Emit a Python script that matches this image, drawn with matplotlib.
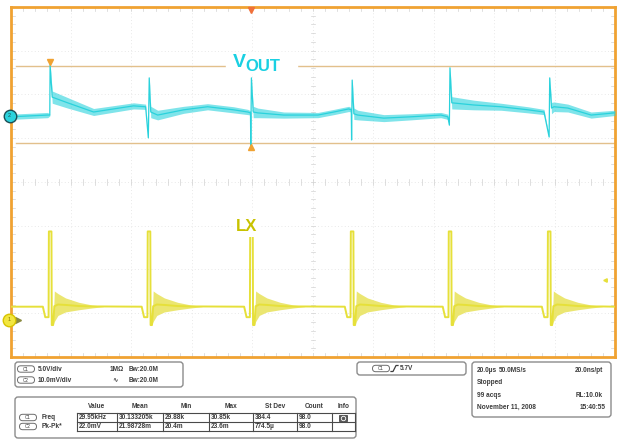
import matplotlib
matplotlib.use("Agg")
import matplotlib.pyplot as plt
from matplotlib.patches import FancyBboxPatch, Rectangle

plt.rcParams['font.family'] = ['Liberation Sans', 'DejaVu Sans']

# scope settings
c1_volts_per_div = 5.0   # LX
c2_mv_per_div = 10.0     # VOUT
c1_offset = -3.15        # div, channel 1 ground marker
c2_offset = 1.51         # div, channel 2 ground marker
cursor_hi_mv = 11.4
cursor_lo_mv = -6.2
trigger_time = -20.4
trigger_level_v = 4.6

# VOUT trace: time (us), level (mV), noise half width (mV)
vout_t = [-100, -87.7, -87.0, -86.9, -86.2, -81.1, -72.5, -59.3, -55.3,
          -54.4, -54.1, -53.6, -51.3, -42.7, -34.8, -26.2, -21.5,
          -20.6, -20.5, -20.3, -19.7, -18.2, -9.6, 1.7, 7.0, 11.9,
          12.75, 12.85, 13.05, 13.6, 14.9, 23.5, 32.5, 42.4, 44.7,
          45.2, 45.4, 46.0, 53.3, 62.3, 71.2, 76.5,
          78.2, 78.4, 79.0, 79.8, 84.4, 92.1, 100]
vout_mv = [-0.2, 0.2, 0.2, 11.7, 4.3, 3.0, 0.9, 2.3, 2.1,
           -5.0, 8.7, 0.9, 0.2, 1.4, 2.1, 1.4, 0.9,
           0.7, -7.3, 8.7, 0.9, 0.7, 0.2, 0.2, 0.9, 1.6,
           1.4, -5.5, 8.2, 0.5, 0.2, -0.5, -0.2, 0.2, -0.2,
           -2.1, 11.0, 3.0, 2.5, 2.1, 1.4, 0.9,
           -4.8, 8.7, 1.8, 2.1, 1.8, 0.2, 0.7]
vout_fuzz = [0.6, 0.6, 0.2, 0.2, 1.4, 1.2, 0.8, 0.7, 0.6,
             0.2, 0.2, 1.3, 1.1, 0.8, 0.7, 0.7, 0.6,
             0.5, 0.2, 0.2, 1.3, 1.1, 0.7, 0.6, 0.6, 0.6,
             0.5, 0.2, 0.2, 1.3, 1.1, 0.8, 0.7, 0.6, 0.6,
             0.2, 0.2, 1.4, 1.1, 0.8, 0.7, 0.6,
             0.2, 0.2, 1.3, 1.1, 0.9, 0.7, 0.6]

# LX switching node: rising edge times (us) and one pulse shape
lx_edges = [-87.3, -54.6, -20.7, 12.6, 45.0, 77.8]
lx_base = 1.5
pulse_dt = [-2.0, -1.2, -0.1, 0.0, 0.85, 0.95, 1.4]
pulse_v = [1.5, 0.3, 0.3, 10.1, 10.1, -0.6, -0.6]
ring_dt = [1.4, 1.8, 3.0, 5.5, 9.9, 14.2, 18.0]
ring_hi = [-0.6, 3.3, 3.0, 2.5, 2.0, 1.7, 1.55]
ring_lo = [-0.6, -0.2, 0.5, 0.9, 1.15, 1.35, 1.5]

# readout panel text
chan_rows = [("C1", "5.0V/div", "1MΩ"), ("C2", "10.0mV/div", "∿")]
bw_label = "Bw:20.0M"
trig_label = "5.7V"
acq_lines = [("20.0µs", "50.0MS/s", "20.0ns/pt"), ("Stopped", "", ""),
             ("99 acqs", "", "RL:10.0k"), ("November 11, 2008", "", "15:40:55")]
meas_header = ["Value", "Mean", "Min", "Max", "St Dev", "Count", "Info"]
meas_rows = [("C1", "Freq", ["29.95kHz", "30.133205k", "29.88k", "30.85k", "384.4", "98.0"]),
             ("C2", "Pk-Pk*", ["22.0mV", "21.98728m", "20.4m", "23.6m", "774.5µ", "98.0"])]

CYAN = '#2ad2dc'
YEL = '#e6e03a'
ORANGE = '#f0a232'
TXT = '#3c3c3c'

fig = plt.figure(figsize=(6.25, 4.44), dpi=100)

# panel layer in pixel coordinates
ui = fig.add_axes([0, 0, 1, 1])
ui.set_xlim(0, 625)
ui.set_ylim(444, 0)
ui.axis('off')

# scope screen
ax = fig.add_axes([10.5 / 625, (444 - 357) / 444, 604.5 / 625, 350 / 444])
ax.set_xlim(-100, 100)
ax.set_ylim(-4, 4)
ax.set_xticks([])
ax.set_yticks([])
for s in ax.spines.values():
    s.set_color(ORANGE)
    s.set_linewidth(2)

# graticule
GC = '#d2d2d2'
for gx in range(-80, 100, 20):
    ax.axvline(gx, color='#e2e2e2', lw=0.6, ls=(0, (1, 3)), zorder=0)
for gy in range(-3, 4):
    ax.axhline(gy, color='#e2e2e2', lw=0.6, ls=(0, (1, 3)), zorder=0)
for k in range(-25, 26):
    tx = k * 4
    ax.plot([tx, tx], [-0.06, 0.06], color=GC, lw=0.5, zorder=0)
    ax.plot([tx, tx], [3.91, 4.0], color=GC, lw=0.5, zorder=0)
    ax.plot([tx, tx], [-4.0, -3.91], color=GC, lw=0.5, zorder=0)
for k in range(-20, 21):
    ty = k * 0.2
    ax.plot([-0.6, 0.6], [ty, ty], color=GC, lw=0.5, zorder=0)
    ax.plot([-100, -98.6], [ty, ty], color=GC, lw=0.5, zorder=0)
    ax.plot([98.6, 100], [ty, ty], color=GC, lw=0.5, zorder=0)

# cursors
y_hi = c2_offset + cursor_hi_mv / c2_mv_per_div
y_lo = c2_offset + cursor_lo_mv / c2_mv_per_div
ax.plot([-98.3, 100], [y_hi, y_hi], color='#e2c08c', lw=1.0, zorder=1)
ax.plot([-98.3, 100], [y_lo, y_lo], color='#e2c08c', lw=1.0, zorder=1)

# VOUT
vy = [c2_offset + v / c2_mv_per_div for v in vout_mv]
vlo = [c2_offset + (v - f) / c2_mv_per_div for v, f in zip(vout_mv, vout_fuzz)]
vhi = [c2_offset + (v + f) / c2_mv_per_div for v, f in zip(vout_mv, vout_fuzz)]
ax.fill_between(vout_t, vlo, vhi, color=CYAN, alpha=0.6, lw=0, zorder=3)
ax.plot(vout_t, vy, color=CYAN, lw=0.9, zorder=4)

# LX
lx_t, lx_v = [-100], [lx_base]
for t0 in lx_edges:
    lx_t += [t0 + d for d in pulse_dt]
    lx_v += pulse_v
    lx_t += [t0 + d for d in ring_dt[1:]]
    lx_v += [(h + l) / 2 for h, l in zip(ring_hi[1:], ring_lo[1:])]
    rt = [t0 + d for d in ring_dt]
    ax.fill_between(rt, [c1_offset + v / c1_volts_per_div for v in ring_lo],
                    [c1_offset + v / c1_volts_per_div for v in ring_hi],
                    color='#e9e462', alpha=0.9, lw=0, zorder=3)
lx_t.append(100)
lx_v.append(lx_base)
ax.plot(lx_t, [c1_offset + v / c1_volts_per_div for v in lx_v], color=YEL, lw=1.4, zorder=4)

# markers
ax.plot(trigger_time, 3.93, marker='v', color='#f0703a', ms=5, clip_on=False, zorder=6)
ax.plot(vout_t[3], y_hi + 0.09, marker='v', color=ORANGE, ms=4.5, zorder=6)
ax.plot(trigger_time, y_lo - 0.09, marker='^', color=ORANGE, ms=4.5, zorder=6)
ax.plot(-100.3, c2_offset, marker='o', ms=9, mfc=CYAN, mec='#1d4f55', mew=1.0, clip_on=False, zorder=7)
ax.text(-100.3, c2_offset, "2", fontsize=4, ha='center', va='center', color='#1d4f55', zorder=8, clip_on=False)
ax.plot(-97.5, c1_offset, marker='>', ms=4, color='#8a8a40', clip_on=False, zorder=6)
ax.plot(-100.6, c1_offset, marker='o', ms=9, mfc='#f2e640', mec='#d8c400', mew=1.0, clip_on=False, zorder=7)
ax.text(-100.6, c1_offset, "1", fontsize=4, ha='center', va='center', color='#8a7a00', zorder=8, clip_on=False)
ax.plot(96.8, c1_offset + trigger_level_v / c1_volts_per_div, marker='<', ms=2.5, color=YEL, zorder=6)

# trace labels
ax.add_patch(Rectangle((-28.8, 2.49), 23.5, 0.48, color='white', zorder=2))
ax.text(-26.4, 2.62, "V", fontsize=14, fontweight='bold', color='#1ad0e2', zorder=5)
ax.text(-22.4, 2.53, "OUT", fontsize=12, fontweight='bold', color='#1ad0e2', zorder=5)
ax.text(-25.3, -1.12, "LX", fontsize=12, fontweight='bold', color='#c8c200', zorder=5,
        bbox=dict(fc='white', ec='none', pad=2))


def box(x0, y0, x1, y1):
    ui.add_patch(FancyBboxPatch((x0, y0), x1 - x0, y1 - y0,
                                boxstyle="round,pad=0,rounding_size=3",
                                fc='white', ec='#8c8c8c', lw=1.0))


def pill(xc, yc, label):
    ui.add_patch(FancyBboxPatch((xc - 8.5, yc - 3.2), 17, 6.4,
                                boxstyle="round,pad=0,rounding_size=3.2",
                                fc='white', ec='#6c6c6c', lw=0.7))
    ui.text(xc, yc, label, fontsize=3.3, ha='center', va='center', color=TXT)


def label(x, y, s, ha='left', **kw):
    ui.text(x, y, s, fontsize=4.7, fontweight='bold', color=TXT, ha=ha, va='center', **kw)


# channel box
box(15, 362, 183, 387)
for (ch, scale, extra), y in zip(chan_rows, [369, 380]):
    pill(26, y, ch)
    label(38, y, scale)
    label(110 if extra == "1MΩ" else 112, y, extra)
    label(129, y, bw_label)

# trigger box
box(357, 362, 466, 375)
pill(381, 368.5, "C1")
ui.plot([391, 393, 396, 398], [371.5, 371.5, 365.5, 365.5], color=TXT, lw=0.9)
label(400, 368.5, trig_label)

# acquisition box
box(472, 362, 611, 417)
for (a, b, c), y in zip(acq_lines, [370, 382.5, 395, 407.5]):
    label(477, y, a)
    if b:
        label(499, y, b)
    if c:
        label(603 if y < 400 else 606, y, c, ha='right')

# measurement table
box(15, 397, 356, 438)
col_edges = [77, 117, 163, 209, 253, 297, 332, 355]
for i, h in enumerate(meas_header):
    label((col_edges[i] + col_edges[i + 1]) / 2, 406, h, ha='center')
row_y = [417.5, 426.5]
for (ch, name, vals), y in zip(meas_rows, row_y):
    pill(28, y, ch)
    label(42, y, name)
    for i, v in enumerate(vals):
        label(col_edges[i] + 1.5, y, v)
for x in col_edges:
    ui.plot([x, x], [413, 431], color='#4a4a4a', lw=0.8)
for y in [413, 422, 431]:
    ui.plot([col_edges[0], col_edges[-1]], [y, y], color='#4a4a4a', lw=0.8)
ui.add_patch(Rectangle((339, 414.5), 7.5, 6.5, fc='#5a5a5a', ec='#333333', lw=0.5))
ui.plot(342.7, 417.7, marker='o', ms=3.2, mfc='none', mec='white', mew=0.6)

fig.savefig("out.png", dpi=100, facecolor='white')
